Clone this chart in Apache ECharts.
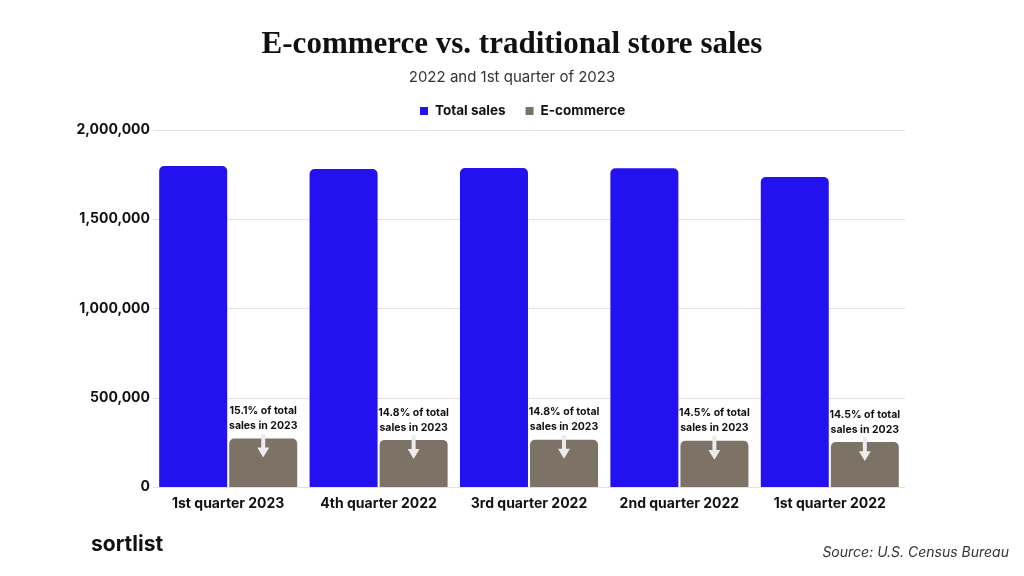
<!DOCTYPE html>
<html lang="en">
<head>
    <meta charset="UTF-8">
    <title>E-commerce vs. traditional store sales</title>
    <script src="https://cdn.jsdelivr.net/npm/echarts@6/dist/echarts.min.js"></script>
    <style>
        * { margin: 0; padding: 0; }
        html, body { width: 100%; height: 100%; background: #fff; }
    </style>
</head>
<body>
    <div id="main" style="width: 1024px;height:576px;"></div>
<script>
    var quarters = ['1st quarter 2023', '4th quarter 2022', '3rd quarter 2022', '2nd quarter 2022', '1st quarter 2022'];
    var totalSales = [1798000, 1781000, 1787000, 1786000, 1737000];
    var ecommerce = [272000, 264000, 265000, 259000, 252000];
    var shareLabels = ['15.1%', '14.8%', '14.8%', '14.5%', '14.5%'];
    var yTicks = [0, 500000, 1000000, 1500000, 2000000];

    // little down arrow drawn inside the top of each e-commerce bar
    var arrowImg = 'data:image/svg+xml;charset=utf-8,' + encodeURIComponent(
        '<svg xmlns="http://www.w3.org/2000/svg" width="12" height="17">' +
        '<path d="M4 0h4v10h4l-6 7-6-7h4z" fill="#ececec"/></svg>');

    var myChart = echarts.init(document.getElementById('main'));
    var font = 'Inter, "Noto Sans", sans-serif';

    myChart.setOption({
        backgroundColor: '#ffffff',
        animation: false,
        title: [{
            text: 'E-commerce vs. traditional store sales',
            left: 'center',
            top: 24,
            textStyle: { fontFamily: '"Liberation Serif", serif', fontWeight: 'bold', fontSize: 31, color: '#111' }
        }, {
            text: '2022 and 1st quarter of 2023',
            left: 'center',
            top: 65,
            textStyle: { fontFamily: font, fontWeight: 'normal', fontSize: 15, color: '#333' }
        }, {
            text: 'sortlist',
            left: 86,
            top: 529,
            textStyle: { fontFamily: font, fontWeight: 'bold', fontSize: 21, color: '#111' }
        }, {
            text: 'Source: U.S. Census Bureau',
            right: 10,
            top: 541,
            textStyle: { fontFamily: font, fontWeight: 'normal', fontStyle: 'italic', fontSize: 14, color: '#333' }
        }],
        legend: {
            top: 99,
            left: 415,
            itemWidth: 8,
            itemHeight: 8,
            itemGap: 20,
            icon: 'rect',
            textStyle: { fontFamily: font, fontWeight: 'bold', fontSize: 13.5, color: '#111', padding: [0, 0, 0, 2] },
            data: ['Total sales', 'E-commerce']
        },
        grid: { left: 153, right: 119, top: 130, bottom: 89 },
        xAxis: {
            type: 'category',
            data: quarters,
            axisLine: { show: false },
            axisTick: { show: false },
            axisLabel: { interval: 0, fontFamily: font, fontWeight: 'bold', fontSize: 14, color: '#111', margin: 10 }
        },
        yAxis: {
            type: 'value',
            min: yTicks[0],
            max: yTicks[yTicks.length - 1],
            interval: yTicks[1] - yTicks[0],
            axisLabel: {
                fontFamily: font, fontWeight: 'bold', fontSize: 14, color: '#111', margin: 3,
                formatter: function (v) { return v.toLocaleString('en-US'); }
            },
            splitLine: { lineStyle: { color: '#e3e3e3' } }
        },
        series: [{
            name: 'Total sales',
            type: 'bar',
            data: totalSales,
            barWidth: 68,
            barGap: '3%',
            itemStyle: { color: '#2311ef', borderRadius: [5, 5, 0, 0] }
        }, {
            name: 'E-commerce',
            type: 'bar',
            data: ecommerce,
            barWidth: 68,
            itemStyle: { color: '#7d7266', borderRadius: [5, 5, 0, 0] },
            label: {
                show: true,
                position: 'top',
                distance: -19,
                formatter: function (p) {
                    return '{t|' + shareLabels[p.dataIndex] + ' of total}\n{t|sales in 2023}\n{a|}';
                },
                rich: {
                    t: { fontFamily: font, fontWeight: 'bold', fontSize: 10.5, color: '#111', lineHeight: 15, align: 'center' },
                    a: { width: 12, height: 17, align: 'center', padding: [7, 0, 0, 0], backgroundColor: { image: arrowImg } }
                }
            }
        }]
    });
</script>
</body>
</html>
